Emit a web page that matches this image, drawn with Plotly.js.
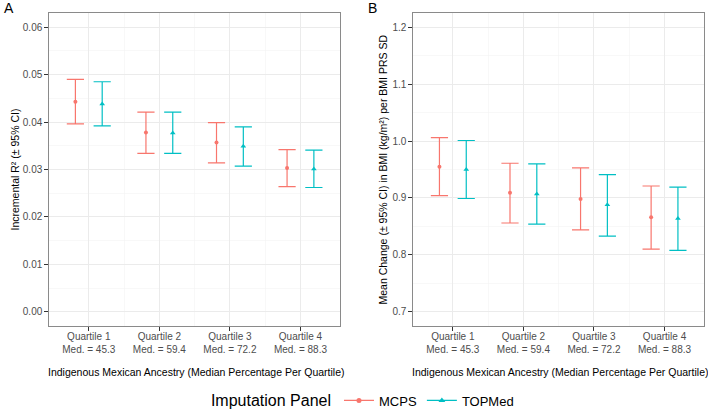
<!DOCTYPE html>
<html><head><meta charset="utf-8">
<script src="https://cdn.plot.ly/plotly-3.0.1.min.js"></script>
<style>html,body{margin:0;padding:0;background:#fff}#chart{width:708px;height:409px}</style>
</head><body><div id="chart"></div>
<script>
// Categories
var quartiles = ['Quartile 1', 'Quartile 2', 'Quartile 3', 'Quartile 4'];
var medians = [45.3, 59.4, 72.2, 88.3];
var series = ['MCPS', 'TOPMed'];

// Panel A: Incremental R2
var r2McpsEst = [0.0443, 0.0378, 0.0357, 0.0303];
var r2McpsLo  = [0.0396, 0.0334, 0.0314, 0.0264];
var r2McpsHi  = [0.0490, 0.0421, 0.0399, 0.0342];
var r2TopEst  = [0.0438, 0.0377, 0.0349, 0.0301];
var r2TopLo   = [0.0392, 0.0334, 0.0307, 0.0262];
var r2TopHi   = [0.0485, 0.0421, 0.0390, 0.0341];

// Panel B: Mean change in BMI per PRS SD
var bmiMcpsEst = [0.955, 0.909, 0.898, 0.866];
var bmiMcpsLo  = [0.904, 0.856, 0.844, 0.810];
var bmiMcpsHi  = [1.006, 0.961, 0.953, 0.921];
var bmiTopEst  = [0.950, 0.907, 0.888, 0.864];
var bmiTopLo   = [0.899, 0.854, 0.833, 0.808];
var bmiTopHi   = [1.001, 0.960, 0.941, 0.919];

var yTicksA = [0, 0.01, 0.02, 0.03, 0.04, 0.05, 0.06];
var yTicksB = [0.7, 0.8, 0.9, 1.0, 1.1, 1.2];

var colors = {MCPS: '#F8766D', TOPMed: '#00BFC4'};
var symbols = {MCPS: 'circle', TOPMed: 'triangle-up'};
var dodge = 0.19;
var FONT = 'Liberation Sans, Arial, sans-serif';

var idx = quartiles.map(function(q, i){ return i + 1; });
var tickText = quartiles.map(function(q, i){ return q + '<br>Med. = ' + medians[i].toFixed(1); });

function diff(a, b){ return a.map(function(v, i){ return v - b[i]; }); }
function mk(name, est, lo, hi, xa, ya, offset){
  return {
    type: 'scatter', mode: 'markers', name: name, showlegend: false,
    x: idx.map(function(v){ return v + offset; }), y: est,
    xaxis: xa, yaxis: ya,
    marker: {color: colors[name], symbol: symbols[name], size: name === 'MCPS' ? 4 : 5},
    error_y: {type: 'data', symmetric: false, array: diff(hi, est), arrayminus: diff(est, lo),
              color: colors[name], thickness: 1.2, width: 8.6},
    hoverinfo: 'x+y'
  };
}

var traces = [
  mk('MCPS', r2McpsEst, r2McpsLo, r2McpsHi, 'x', 'y', -dodge),
  mk('TOPMed', r2TopEst, r2TopLo, r2TopHi, 'x', 'y', dodge),
  mk('MCPS', bmiMcpsEst, bmiMcpsLo, bmiMcpsHi, 'x2', 'y2', -dodge),
  mk('TOPMed', bmiTopEst, bmiTopLo, bmiTopHi, 'x2', 'y2', dodge)
];
series.forEach(function(s){
  traces.push({type: 'scatter', mode: 'lines+markers', name: s, x: [null], y: [null],
    xaxis: 'x', yaxis: 'y',
    line: {color: colors[s], width: 1.2},
    marker: {color: colors[s], symbol: symbols[s], size: s === 'MCPS' ? 5 : 6}});
});

function mids(arr){ var m = []; for (var i = 0; i < arr.length - 1; i++) m.push((arr[i] + arr[i+1]) / 2); return m; }

var common = {
  showline: true, mirror: true, linecolor: '#8a8a8a', linewidth: 1,
  ticks: 'outside', ticklen: 4, tickcolor: '#333', tickwidth: 1,
  showgrid: true, gridcolor: '#ebebeb', gridwidth: 1, zeroline: false,
  tickfont: {family: FONT, size: 10, color: '#4d4d4d'}
};
function ext(o){ var r = {}; for (var k in common) r[k] = common[k]; for (var k2 in o) r[k2] = o[k2]; return r; }

var xMinor = {tickvals: mids(idx), showgrid: true, gridcolor: '#f3f3f3', gridwidth: 0.6, ticks: ''};

var layout = {
  width: 708, height: 409,
  margin: {l: 0, r: 0, t: 13, b: 83, autoexpand: false},
  paper_bgcolor: '#fff', plot_bgcolor: '#fff',
  font: {family: FONT},
  showlegend: true,
  xaxis: ext({domain: [0.0696, 0.4802], anchor: 'y', range: [0.44, 4.56], tickmode: 'array', tickvals: idx, ticktext: tickText, minor: xMinor, automargin: false, ticklabelstandoff: -3}),
  xaxis2: ext({domain: [0.5838, 0.9944], anchor: 'y2', range: [0.44, 4.56], tickmode: 'array', tickvals: idx, ticktext: tickText, minor: xMinor, automargin: false, ticklabelstandoff: -3}),
  yaxis: ext({domain: [0, 1], anchor: 'x', range: [-0.003, 0.063], tickmode: 'array', tickvals: yTicksA, ticktext: yTicksA.map(function(v){return v.toFixed(2);}), automargin: false,
    minor: {tickvals: mids(yTicksA), showgrid: true, gridcolor: '#f3f3f3', gridwidth: 0.6, ticks: ''}}),
  yaxis2: ext({domain: [0, 1], anchor: 'x2', range: [0.675, 1.225], tickmode: 'array', tickvals: yTicksB, ticktext: yTicksB.map(function(v){return v.toFixed(1);}), automargin: false,
    minor: {tickvals: mids(yTicksB), showgrid: true, gridcolor: '#f3f3f3', gridwidth: 0.6, ticks: ''}}),
  legend: {orientation: 'h', x: 0.514, xanchor: 'center', y: (326-401)/313, yanchor: 'middle',
    font: {family: FONT, size: 13, color: '#000'},
    title: {text: 'Imputation Panel', side: 'left', font: {family: FONT, size: 16, color: '#000'}},
    itemwidth: 30, bgcolor: 'rgba(0,0,0,0)'},
  annotations: [
    {text: 'A', xref: 'paper', yref: 'paper', x: 2/708, y: (326-8)/313, xanchor: 'left', yanchor: 'middle', showarrow: false, font: {family: FONT, size: 14, color: '#000'}},
    {text: 'B', xref: 'paper', yref: 'paper', x: 366/708, y: (326-8)/313, xanchor: 'left', yanchor: 'middle', showarrow: false, font: {family: FONT, size: 14, color: '#000'}},
    {text: 'Indigenous Mexican Ancestry (Median Percentage Per Quartile)', xref: 'paper', yref: 'paper', x: 196/708, y: (326-372)/313, xanchor: 'center', yanchor: 'middle', showarrow: false, font: {family: FONT, size: 10.5, color: '#000'}},
    {text: 'Indigenous Mexican Ancestry (Median Percentage Per Quartile)', xref: 'paper', yref: 'paper', x: 560/708, y: (326-372)/313, xanchor: 'center', yanchor: 'middle', showarrow: false, font: {family: FONT, size: 10.5, color: '#000'}},
    {text: 'Incremental R² (± 95% CI)', xref: 'paper', yref: 'paper', x: 14/708, y: 0.5, xanchor: 'center', yanchor: 'middle', textangle: -90, showarrow: false, font: {family: FONT, size: 10.5, color: '#000'}},
    {text: 'Mean Change (± 95% CI) in BMI (kg/m²) per BMI PRS SD', xref: 'paper', yref: 'paper', x: 382/708, y: 0.5, xanchor: 'center', yanchor: 'middle', textangle: -90, showarrow: false, font: {family: FONT, size: 10.5, color: '#000'}}
  ]
};

Plotly.newPlot('chart', traces, layout, {staticPlot: true, displayModeBar: false});
</script></body></html>
